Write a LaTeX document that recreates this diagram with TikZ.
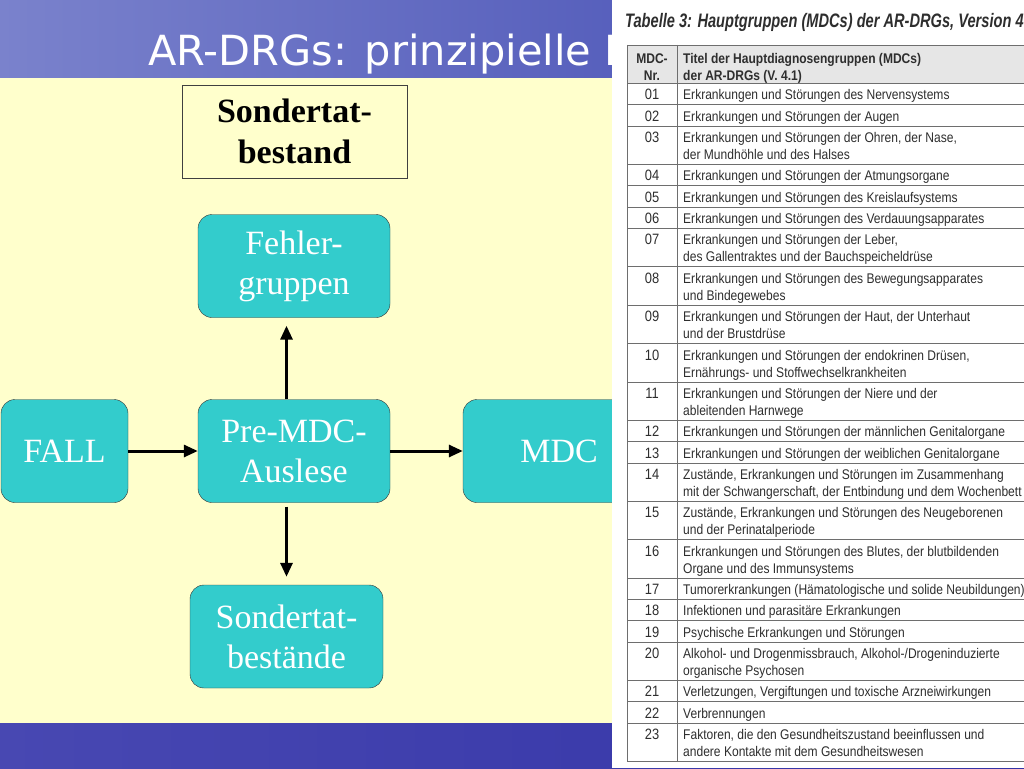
\documentclass[tikz,border=0pt]{standalone}
\usepackage{xcolor}
\usepackage{fontspec}
\setmainfont{Liberation Serif}
\newfontfamily\titlefont{DejaVu Sans}
\newfontfamily\tabfont[FakeStretch=0.86]{Liberation Sans}
\newfontfamily\capfont[FakeStretch=0.75]{Liberation Sans}
\usepackage{tikz}
\usetikzlibrary{arrows.meta,positioning,calc}
\definecolor{bandlight}{HTML}{7A82CC}
\definecolor{banddark}{HTML}{4049B2}
\definecolor{footlight}{HTML}{4848B2}
\definecolor{footdark}{HTML}{3333A6}
\definecolor{slideyellow}{HTML}{FFFFCC}
\definecolor{tealfill}{HTML}{33CCCC}
\definecolor{tabtext}{HTML}{2E2E2E}
\definecolor{tabline}{HTML}{6E6E6E}
\definecolor{tabhead}{HTML}{E6E6E6}
\tikzset{
  tealbox/.style={draw=black!80,fill=tealfill,rounded corners=14pt,text=white,inner sep=0pt,
    minimum width=192pt,minimum height=103pt,align=center,font=\fontsize{34}{40}\selectfont},
  flowarrow/.style={line width=3pt,-{Triangle[length=14pt,width=12pt]}},
  rowline/.style={draw=tabline,line width=.8pt},
  cell/.style={text=tabtext,inner sep=0pt,font=\tabfont\fontsize{14}{17}\selectfont},
}

\begin{document}
\begin{tikzpicture}[x=1pt,y=-1pt]
\useasboundingbox (0,0) rectangle (1024,768);
\clip (0,0) rectangle (1024,768);
% slide background
\fill[slideyellow] (0,0) rectangle (1024,768);
\shade[left color=bandlight,right color=banddark] (0,0) rectangle (1024,77);
\shade[left color=footlight,right color=footdark] (0,723) rectangle (1024,768);
\node[anchor=base west,inner sep=0pt,text=white,font=\titlefont\fontsize{41.5}{48}\selectfont] (title) at (148,65) {AR-DRGs: prinzipielle K};
% flow diagram
\node[draw=black!75,line width=.8pt,fill=slideyellow,inner sep=0pt,minimum width=225pt,minimum height=93pt,
  align=center,font=\bfseries\fontsize{34}{41}\selectfont] (stbox) at (294.5,131.5) {Sondertat-\\bestand};
\node[tealbox] (fehler) at (294,266) {Fehler-\\gruppen};
\node[tealbox] (premdc) at (294,451) {Pre-MDC-\\Auslese};
\node[tealbox,minimum width=127pt] (fall) at (64.5,451) {FALL};
\node[tealbox] (mdc) at (559,451) {MDC};
\node[tealbox,minimum width=193pt] (sonder) at (286.5,636.5) {Sondertat-\\bestände};
\draw[flowarrow] (fall) -- (premdc);
\draw[flowarrow] (premdc) -- (mdc);
\draw[flowarrow,shorten >=8pt] (premdc.north -| sonder.north) -- (fehler.south -| sonder.north);
\draw[flowarrow,shorten <=4pt,shorten >=8pt] (premdc.south -| sonder.north) -- (sonder.north);
% scanned table
\fill[white] (612,0) rectangle (1024,768);
\node[anchor=base west,inner sep=0pt,text=tabtext,font=\capfont\bfseries\itshape\fontsize{19.5}{21}\selectfont] (caption) at (625,28) {Tabelle 3: Hauptgruppen (MDCs) der AR-DRGs, Version 4};
\fill[tabhead] (627,45) rectangle (1030,83.4);
\node[cell,anchor=base,font=\tabfont\bfseries\fontsize{14}{17}\selectfont] (hnr-a) at (652,63.5) {MDC-};
\node[cell,anchor=base,font=\tabfont\bfseries\fontsize{14}{17}\selectfont] (hnr-b) at (652,80) {Nr.};
\node[cell,anchor=base west,font=\tabfont\bfseries\fontsize{14}{17}\selectfont] (htx-a) at (683,63.5) {Titel der Hauptdiagnosengruppen (MDCs)};
\node[cell,anchor=base west,font=\tabfont\bfseries\fontsize{14}{17}\selectfont] (htx-b) at (683,80) {der AR-DRGs (V. 4.1)};
\draw[rowline] (627,45) -- (1030,45);
\draw[rowline] (627,83.4) -- (1030,83.4);
\foreach \nr/\h/\la/\lb [remember=\ybot as \ytop (initially 83.4),evaluate=\h as \ybot using \ytop+\h] in {
  01/21.3/{Erkrankungen und Störungen des Nervensystems}/{},
  02/21.3/{Erkrankungen und Störungen der Augen}/{},
  03/38.4/{Erkrankungen und Störungen der Ohren, der Nase,}/{der Mundhöhle und des Halses},
  04/21.3/{Erkrankungen und Störungen der Atmungsorgane}/{},
  05/21.3/{Erkrankungen und Störungen des Kreislaufsystems}/{},
  06/21.3/{Erkrankungen und Störungen des Verdauungsapparates}/{},
  07/38.4/{Erkrankungen und Störungen der Leber,}/{des Gallentraktes und der Bauchspeicheldrüse},
  08/38.4/{Erkrankungen und Störungen des Bewegungsapparates}/{und Bindegewebes},
  09/38.4/{Erkrankungen und Störungen der Haut, der Unterhaut}/{und der Brustdrüse},
  10/38.4/{Erkrankungen und Störungen der endokrinen Drüsen,}/{Ernährungs- und Stoffwechselkrankheiten},
  11/38.4/{Erkrankungen und Störungen der Niere und der}/{ableitenden Harnwege},
  12/21.3/{Erkrankungen und Störungen der männlichen Genitalorgane}/{},
  13/21.3/{Erkrankungen und Störungen der weiblichen Genitalorgane}/{},
  14/38.4/{Zustände, Erkrankungen und Störungen im Zusammenhang}/{mit der Schwangerschaft, der Entbindung und dem Wochenbett},
  15/38.4/{Zustände, Erkrankungen und Störungen des Neugeborenen}/{und der Perinatalperiode},
  16/38.4/{Erkrankungen und Störungen des Blutes, der blutbildenden}/{Organe und des Immunsystems},
  17/21.3/{Tumorerkrankungen (Hämatologische und solide Neubildungen)}/{},
  18/21.3/{Infektionen und parasitäre Erkrankungen}/{},
  19/21.3/{Psychische Erkrankungen und Störungen}/{},
  20/38.4/{Alkohol- und Drogenmissbrauch, Alkohol-/Drogeninduzierte}/{organische Psychosen},
  21/21.3/{Verletzungen, Vergiftungen und toxische Arzneiwirkungen}/{},
  22/21.3/{Verbrennungen}/{},
  23/38.4/{Faktoren, die den Gesundheitszustand beeinflussen und}/{andere Kontakte mit dem Gesundheitswesen}}{
  \draw[rowline] (627,\ybot) -- (1030,\ybot);
  \node[cell,anchor=base,font=\tabfont\fontsize{15}{17}\selectfont] (nr-\nr) at (652,\ytop+16.5) {\nr};
  \node[cell,anchor=base west] (ta-\nr) at (683,\ytop+16.5) {\la};
  \ifdim\h pt>30pt \node[cell,anchor=base west] (tb-\nr) at (683,\ytop+33.5) {\lb};\fi
}
\draw[rowline,line width=1pt] (627,45) -- (627,761.4);
\draw[rowline] (677,45) -- (677,761.4);
\end{tikzpicture}
\end{document}
